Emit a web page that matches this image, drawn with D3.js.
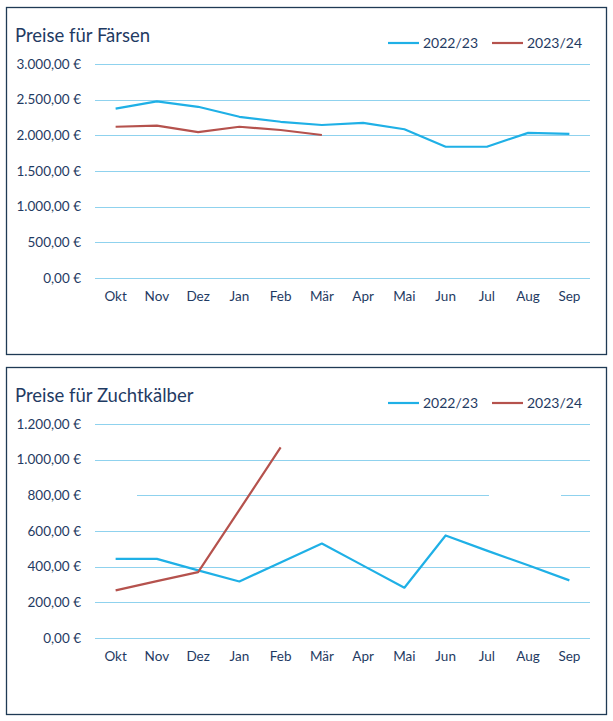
<!DOCTYPE html>
<html>
<head>
<meta charset="utf-8">
<script src="https://cdn.jsdelivr.net/npm/d3@7"></script>
<style>
  html, body { margin: 0; padding: 0; background: #fff; }
  svg text { font-family: Lato, "Open Sans", sans-serif; fill: #1f3b63; }
</style>
</head>
<body>
<svg id="chart" width="613" height="721"></svg>
<script>
const months = ["Okt","Nov","Dez","Jan","Feb","Mär","Apr","Mai","Jun","Jul","Aug","Sep"];
const seriesNames = ["2022/23","2023/24"];

const faersen2223 = [2375, 2475, 2400, 2260, 2190, 2145, 2175, 2085, 1840, 1840, 2035, 2020];
const faersen2324 = [2120, 2135, 2045, 2120, 2075, 2005];
const faersenTicks = [0, 500, 1000, 1500, 2000, 2500, 3000];

const kaelber2223 = [444, 444, 379, 317, 424, 530, 406, 282, 575, 490, 408, 323];
const kaelber2324 = [267, 319, 369, 718, 1069];
const kaelberTicks = [0, 200, 400, 600, 800, 1000, 1200];

const colors = ["#1fb0e6", "#b5524d"];
const fmt = v => d3.format(",.2f")(v).replace(/,/g, "X").replace(/\./g, ",").replace(/X/g, ".") + " €";

const svg = d3.select("#chart");

function panel(top, title, s1, s2, ticks, gappedTick) {
  const g = svg.append("g").attr("transform", `translate(0,${top})`);
  g.append("rect").attr("x", 6.5).attr("y", 7.5).attr("width", 600).attr("height", 347)
    .attr("fill", "#fff").attr("stroke", "#1f3a55").attr("stroke-width", 1.3);

  const x = d3.scaleBand().domain(months).range([95, 590]);
  const y = d3.scaleLinear().domain([0, d3.max(ticks)]).range([278, 64]);

  g.append("text").attr("x", 15).attr("y", 42).attr("font-size", 18.5).text(title);

  // gridlines
  const grid = g.append("g");
  ticks.forEach(t => {
    const yy = Math.round(y(t)) + 0.5;
    const segs = (t === gappedTick) ? [[137, 489], [561, 590]] : [[95, 590]];
    segs.forEach(([a, b]) => {
      grid.append("line").attr("x1", a).attr("x2", b).attr("y1", yy).attr("y2", yy)
        .style("stroke", "#8fd2ee").attr("stroke-width", 1);
    });
  });

  // y axis labels
  const yAxis = d3.axisLeft(y).tickValues(ticks).tickFormat(fmt).tickSize(0).tickPadding(0);
  const ya = g.append("g").attr("transform", "translate(81,0)").call(yAxis);
  ya.select(".domain").remove();
  ya.selectAll("line").remove();
  ya.selectAll("text").attr("font-size", 13.5).attr("fill", "#1f3b63")
    .style("font-family", "Lato, 'Open Sans', sans-serif");

  // x axis labels
  const xAxis = d3.axisBottom(x).tickSize(0).tickPadding(0);
  const xa = g.append("g").attr("transform", "translate(0,291)").call(xAxis);
  xa.select(".domain").remove();
  xa.selectAll("line").remove();
  xa.selectAll("text").attr("font-size", 13.5).attr("fill", "#1f3b63")
    .style("font-family", "Lato, 'Open Sans', sans-serif");

  const line = d3.line().x((d, i) => x(months[i]) + x.bandwidth() / 2).y(d => y(d));
  [s1, s2].forEach((s, k) => {
    g.append("path").datum(s).attr("d", line).attr("fill", "none")
      .attr("stroke", colors[k]).attr("stroke-width", 2.2).attr("stroke-linejoin", "round");
  });

  // legend
  const lx = [388, 492];
  seriesNames.forEach((n, k) => {
    g.append("line").attr("x1", lx[k]).attr("x2", lx[k] + 31).attr("y1", 43).attr("y2", 43)
      .attr("stroke", colors[k]).attr("stroke-width", 2.2);
    g.append("text").attr("x", lx[k] + 35).attr("y", 48).attr("font-size", 14).text(n);
  });
}

panel(0, "Preise für Färsen", faersen2223, faersen2324, faersenTicks, null);
panel(360, "Preise für Zuchtkälber", kaelber2223, kaelber2324, kaelberTicks, 800);
</script>
</body>
</html>
